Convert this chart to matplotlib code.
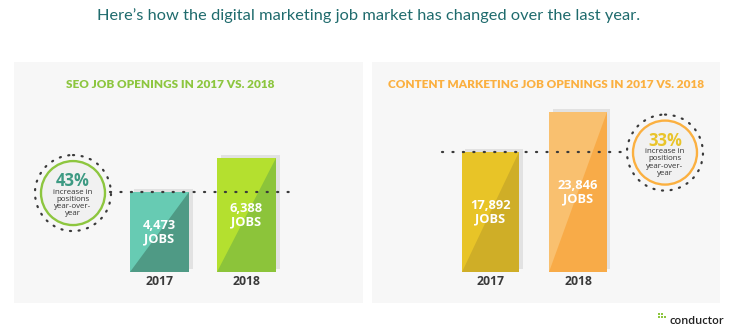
import numpy as np
import matplotlib
matplotlib.use('Agg')
import matplotlib.pyplot as plt
from matplotlib.patches import Rectangle, Circle
import matplotlib.transforms as mtransforms

# data
years = ['2017', '2018']
seo_jobs = [4473, 6388]
content_jobs = [17892, 23846]

seo_title = 'SEO JOB OPENINGS IN 2017 VS. 2018'
content_title = 'CONTENT MARKETING JOB OPENINGS IN 2017 VS. 2018'
main_title = 'Here\u2019s how the digital marketing job market has changed over the last year.'
circle_note = 'increase in\npositions\nyear-over-\nyear'

W, H = 733, 331
fig = plt.figure(figsize=(W / 100, H / 100), dpi=100)
fig.patch.set_facecolor('white')

# pixel-space background axes
bg = fig.add_axes([0, 0, 1, 1])
bg.set_xlim(0, W)
bg.set_ylim(H, 0)
bg.axis('off')

bg.text(W / 2 + 2, 16, main_title, ha='center', va='center', color='#1f6b6d',
        fontsize=11.8, family='Lato')

baseline = 272
panels = [
    dict(x0=14, x1=363, c0=159.5, sp=87, bw=59, scale=0.01787, vals=seo_jobs,
         title=seo_title, tcol='#8dc63f', title_x=170,
         light=['#67cbb3', '#b4e02f'], dark=['#4f9a85', '#8cc43a'],
         ring='#8dc63f', pcol='#3d9a83', cx=73, line=(110, 297)),
    dict(x0=372, x1=720, c0=490.5, sp=87.5, bw=57.5, scale=0.00673, vals=content_jobs,
         title=content_title, tcol='#fbb040', title_x=546,
         light=['#e8c427', '#f9c06f'], dark=['#cfae27', '#f8ab48'],
         ring='#fbb040', pcol='#e9c42a', cx=665, line=(442, 628)),
]

top, bot = 62, 303
for p in panels:
    bg.add_patch(Rectangle((p['x0'], top), p['x1'] - p['x0'], bot - top,
                           facecolor='#f7f7f7', edgecolor='none', zorder=0))
    bg.text(p['title_x'], 85, p['title'], ha='center', va='center', color=p['tcol'],
            fontsize=8.45, fontweight='heavy', family='Lato')

    ax = fig.add_axes([p['x0'] / W, (H - bot) / H, (p['x1'] - p['x0']) / W, (bot - top) / H])
    ax.set_xlim((p['x0'] - p['c0']) / p['sp'], (p['x1'] - p['c0']) / p['sp'])
    ax.set_ylim(-(bot - baseline) / p['scale'], (baseline - top) / p['scale'])
    ax.axis('off')
    ax.patch.set_alpha(0)

    xs = np.arange(len(years))
    w = p['bw'] / p['sp']
    vals = p['vals']

    # drop shadow
    shift = ax.transData + mtransforms.ScaledTranslation(0.035, 0.03, fig.dpi_scale_trans)
    ax.bar(xs, vals, width=w, color='#e2e2e2', transform=shift, zorder=1)
    ax.bar(xs, vals, width=w, color=p['dark'], zorder=2)
    for i, v in enumerate(vals):
        xa, xb = xs[i] - w / 2, xs[i] + w / 2
        ax.fill([xa, xa, xb], [0, v, v], color=p['light'][i], lw=0, zorder=3)
        ax.text(xs[i], v / 2, f'{v:,}\nJOBS', ha='center', va='center', color='white',
                fontsize=9.3, fontweight='bold', family='Open Sans', linespacing=1.05, zorder=5)
        ax.text(xs[i], -9.5 / p['scale'], years[i], ha='center', va='center', color='#3a3a3a',
                fontsize=8.8, fontweight='bold', family='Open Sans')

    # dotted reference line at the 2017 level
    lx0 = (p['line'][0] - p['c0']) / p['sp']
    lx1 = (p['line'][1] - p['c0']) / p['sp']
    ax.plot([lx0, lx1], [vals[0], vals[0]], color='#3a3a3a', lw=1.6,
            ls=(0, (0.5, 4.2)), dash_capstyle='round', zorder=6)

    # percent-increase badge
    cy = baseline - vals[0] * p['scale'] + 1
    pct = round((vals[1] / vals[0] - 1) * 100)
    bg.add_patch(Circle((p['cx'], cy), 38, facecolor='none', edgecolor='#3a3a3a', lw=1.6,
                        ls=(0, (0.5, 3.4)), capstyle='round', zorder=4))
    bg.add_patch(Circle((p['cx'], cy), 32, facecolor='#f1f1f1', edgecolor=p['ring'],
                        lw=1.7, zorder=4))
    bg.text(p['cx'], cy - 12, f'{pct}%', ha='center', va='center', color=p['pcol'],
            fontsize=12, fontweight='bold', family='Open Sans', zorder=5)
    bg.text(p['cx'], cy + 10, circle_note, ha='center', va='center', color='#333333',
            fontsize=5.7, family='Open Sans', linespacing=1.05, zorder=5)

# logo
for dx, dy in [(0, 0), (3, 0), (0, 3), (3, 3), (6, 3)]:
    bg.add_patch(Rectangle((658 + dx, 313 + dy), 2.2, 2.2, facecolor='#8dc63f', lw=0))
bg.text(669, 321, 'conductor', ha='left', va='center', color='#222222', fontsize=8,
        fontweight='semibold', family='Open Sans')

fig.savefig('out.png', dpi=100, facecolor='white')
